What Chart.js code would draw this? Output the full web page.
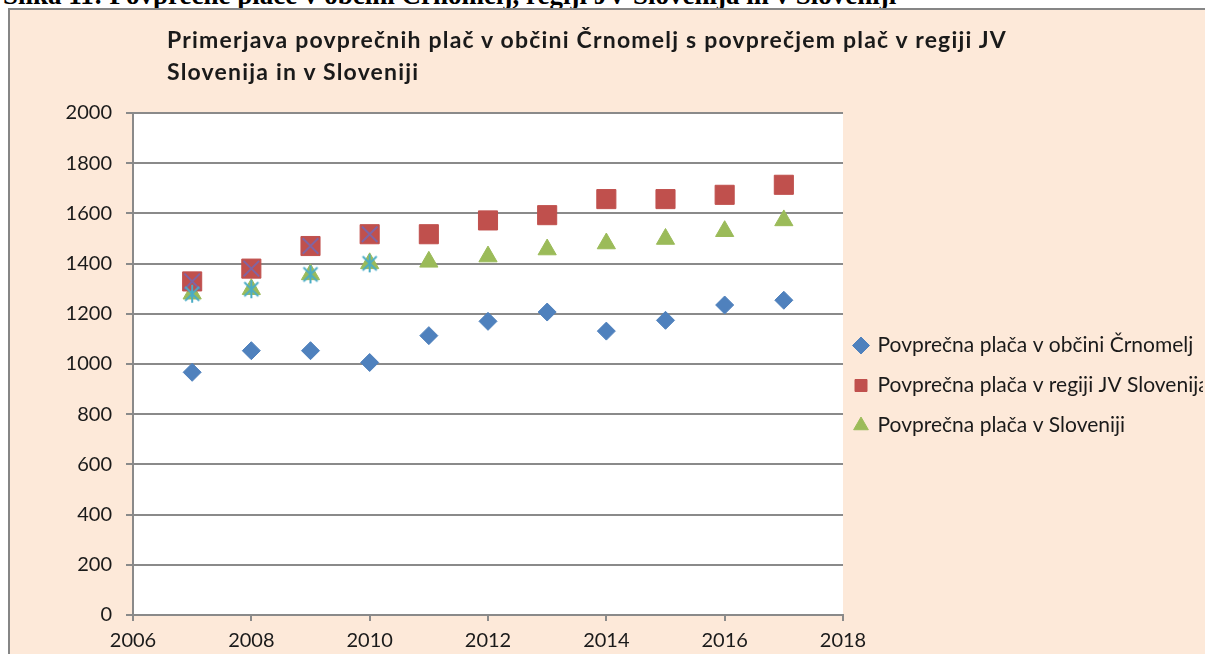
<!DOCTYPE html>
<html>
<head>
<meta charset="utf-8">
<script src="https://cdn.jsdelivr.net/npm/chart.js@4/dist/chart.umd.min.js"></script>
<style>
  html, body { margin: 0; padding: 0; background: #fff; overflow: hidden; width: 1205px; height: 654px; }
  #caption { position: absolute; left: 3px; top: -19px; font: bold 27px "Liberation Serif", serif; line-height: 29px; white-space: nowrap; color: #000; }
  #frame { position: absolute; left: 8px; top: 8px; width: 1240px; height: 700px; background: #fde9d9; border-left: 2px solid #868686; border-top: 2px solid #868686; }
  #title { position: absolute; left: 157px; top: 13px; font: bold 23px Lato, sans-serif; letter-spacing: 1.2px; line-height: 32px; color: #1a1a1a; white-space: nowrap; }
  #wrap { position: absolute; left: 0; top: 0; width: 1200px; height: 644px; }
</style>
</head>
<body>
<div id="caption">Slika 11: Povprečne plače v občini Črnomelj, regiji JV Slovenija in v Sloveniji</div>
<div id="frame">
  <div id="wrap"><canvas id="chart"></canvas></div>
  <div id="title">Primerjava povprečnih plač v občini Črnomelj s povprečjem plač v regiji JV<br>Slovenija in v Sloveniji</div>
</div>
<script>
const years = [2007, 2008, 2009, 2010, 2011, 2012, 2013, 2014, 2015, 2016, 2017];
const crnomelj = [967, 1053, 1053, 1006, 1113, 1170, 1207, 1131, 1174, 1235, 1254];
const regija = [1329, 1380, 1470, 1517, 1517, 1572, 1593, 1657, 1657, 1674, 1714];
const slovenija = [1280, 1298, 1357, 1401, 1407, 1428, 1456, 1480, 1498, 1529, 1572];

// extra series in the source file (no legend entry), only 2007-2010
const extraYears = [2007, 2008, 2009, 2010];
const regijaExtra = [1329, 1380, 1470, 1517];
const slovenijaExtra = [1280, 1298, 1357, 1401];

const seriesNames = [
    'Povprečna plača v občini Črnomelj',
    'Povprečna plača v regiji JV Slovenija',
    'Povprečna plača v Sloveniji'
];

const xTicks = [2006, 2008, 2010, 2012, 2014, 2016, 2018];

const textColor = '#1a1a1a';
const axisColor = '#8a8a8a';

const pts = (xs, ys) => xs.map((x, i) => ({ x, y: ys[i] }));

// asterisk marker (X with vertical bar)
const star = document.createElement('canvas');
star.width = 20; star.height = 20;
{
    const c = star.getContext('2d');
    c.strokeStyle = '#4bacc6';
    c.lineWidth = 2;
    c.beginPath();
    c.moveTo(3, 3); c.lineTo(17, 17);
    c.moveTo(17, 3); c.lineTo(3, 17);
    c.moveTo(10, 1); c.lineTo(10, 19);
    c.stroke();
}

const plotBg = {
    id: 'plotBg',
    afterLayout(chart) {
        // pull the legend a bit closer to the plot
        chart.legend.left -= 7;
        chart.legend.right -= 7;
    },
    beforeDraw(chart) {
        const { ctx, chartArea: a } = chart;
        ctx.save();
        ctx.fillStyle = '#fff';
        ctx.fillRect(a.left, a.top, a.right - a.left, a.bottom - a.top);
        ctx.restore();
    }
};

new Chart(document.getElementById('chart'), {
    type: 'scatter',
    data: {
        datasets: [
            { label: seriesNames[0], data: pts(years, crnomelj), pointStyle: 'rectRot', pointRadius: 9, order: 3,
              backgroundColor: '#4f81bd', borderColor: '#4f81bd', borderWidth: 1 },
            { label: seriesNames[1], data: pts(years, regija), pointStyle: 'rect', pointRadius: 13.5, order: 4,
              backgroundColor: '#c0504d', borderColor: '#c0504d', borderWidth: 1 },
            { label: seriesNames[2], data: pts(years, slovenija), pointStyle: 'triangle', pointRadius: 10.5, order: 5,
              backgroundColor: '#9bbb59', borderColor: '#9bbb59', borderWidth: 1 },
            { label: 'x1', data: pts(extraYears, regijaExtra), pointStyle: 'crossRot', pointRadius: 11, order: 1,
              backgroundColor: '#8064a2', borderColor: '#8064a2', borderWidth: 2 },
            { label: 'x2', data: pts(extraYears, slovenijaExtra), pointStyle: star, pointRadius: 10, order: 0,
              backgroundColor: '#4bacc6', borderColor: '#4bacc6' }
        ]
    },
    options: {
        responsive: true,
        maintainAspectRatio: false,
        animation: false,
        layout: { padding: { top: 103, left: 0, right: 0, bottom: 0 } },
        scales: {
            x: {
                type: 'linear', min: 2006, max: 2018,
                afterBuildTicks: s => { s.ticks = xTicks.map(v => ({ value: v })); },
                afterFit: s => { s.height = 39; },
                ticks: { color: textColor, font: { family: 'Lato', size: 20 }, padding: 8, callback: v => String(v) },
                grid: { drawOnChartArea: false, drawTicks: true, tickLength: 6, color: axisColor, lineWidth: 2 },
                border: { color: axisColor, width: 2 }
            },
            y: {
                min: 0, max: 2000,
                ticks: { stepSize: 200, color: textColor, font: { family: 'Lato', size: 20 }, padding: 14, callback: v => String(v) },
                afterFit: s => { s.width = 123; },
                grid: { color: axisColor, lineWidth: 2, tickLength: 7 },
                border: { color: axisColor, width: 2 }
            }
        },
        plugins: {
            tooltip: { enabled: false },
            legend: {
                position: 'right',
                maxWidth: 367,
                title: { display: true, text: '', padding: { top: 0, bottom: 3 }, font: { size: 1, lineHeight: 1 } },
                labels: {
                    filter: item => item.datasetIndex < 3,
                    sort: (a, b) => a.datasetIndex - b.datasetIndex,
                    usePointStyle: true,
                    boxWidth: 12, boxHeight: 12,
                    padding: 19,
                    color: textColor,
                    font: { family: 'Lato', size: 21 }
                }
            }
        }
    },
    plugins: [plotBg]
});
</script>
</body>
</html>
